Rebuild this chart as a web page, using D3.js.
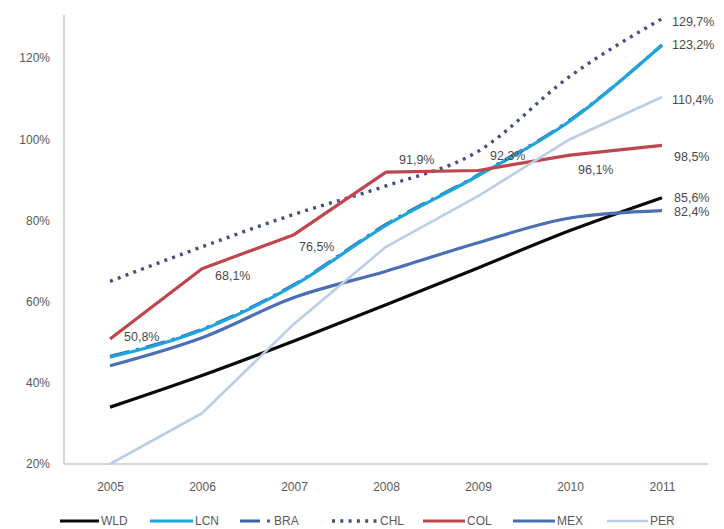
<!DOCTYPE html>
<html>
<head>
<meta charset="utf-8">
<script src="https://cdn.jsdelivr.net/npm/d3@7"></script>
<style>
  html, body { margin: 0; padding: 0; background: #fff; }
  svg { display: block; }
  text { font-family: "Liberation Sans", Arial, sans-serif; }
</style>
</head>
<body>
<svg id="chart" width="724" height="529"></svg>
<script>
// Years on the category axis
const years = [2005, 2006, 2007, 2008, 2009, 2010, 2011];

// Series values (%)
const WLD = [34.0, 41.8, 50.3, 59.2, 68.3, 77.5, 85.6];
const LCN = [46.3, 53.0, 64.0, 78.8, 91.0, 104.5, 123.2];
const BRA = [46.5, 53.2, 64.2, 79.0, 91.2, 104.7, 123.2];
const CHL = [65.0, 73.5, 81.5, 88.5, 97.0, 115.5, 129.7];
const COL = [50.8, 68.1, 76.5, 91.9, 92.3, 96.1, 98.5];
const MEX = [44.2, 51.1, 61.0, 67.5, 74.5, 80.6, 82.4];
const PER = [20.0, 32.5, 54.5, 73.5, 86.0, 100.0, 110.4];

// Y axis tick values
const yTicks = [20, 40, 60, 80, 100, 120];

// Legend order
const seriesNames = ["WLD", "LCN", "BRA", "CHL", "COL", "MEX", "PER"];
const seriesData = { WLD, LCN, BRA, CHL, COL, MEX, PER };

// Line styling per series
const styles = {
  WLD: { color: "#0a0a0a", width: 3.2, dash: null, smooth: true },
  LCN: { color: "#1ea6dc", width: 3.2, dash: null, smooth: true },
  BRA: { color: "#3d62a8", width: 3.2, dash: "20,7,3,7", smooth: true },
  CHL: { color: "#44517f", width: 3.4, dash: "3,5.3", smooth: true },
  COL: { color: "#c0464d", width: 3.2, dash: null, smooth: false },
  MEX: { color: "#4b6fb5", width: 3.2, dash: null, smooth: true },
  PER: { color: "#bccde8", width: 2.6, dash: null, smooth: false }
};

// Drawing order (BRA sits just under LCN)
const drawOrder = ["WLD", "BRA", "LCN", "CHL", "COL", "MEX", "PER"];

// Value labels: series, year index, pixel offset from the point
const valueLabels = [
  { s: "COL", i: 0, dx: 14, dy: -2 },
  { s: "COL", i: 1, dx: 13, dy: 7 },
  { s: "COL", i: 2, dx: 5, dy: 12 },
  { s: "COL", i: 3, dx: 13, dy: -12 },
  { s: "COL", i: 4, dx: 12, dy: -15 },
  { s: "COL", i: 5, dx: 8, dy: 15 },
  { s: "COL", i: 6, dx: 12, dy: 11 },
  { s: "CHL", i: 6, dx: 10, dy: 3 },
  { s: "LCN", i: 6, dx: 10, dy: 0 },
  { s: "PER", i: 6, dx: 10, dy: 3 },
  { s: "WLD", i: 6, dx: 12, dy: 0 },
  { s: "MEX", i: 6, dx: 12, dy: 1 }
];

const svg = d3.select("#chart");

const plot = { left: 64, right: 708, top: 15, bottom: 464 };

const x = d3.scalePoint()
  .domain(years)
  .range([plot.left, plot.right])
  .padding(0.5);

const y = d3.scaleLinear()
  .domain([20, 130.6])
  .range([plot.bottom, plot.top]);

// Axis lines
svg.append("line")
  .attr("x1", plot.left).attr("x2", plot.left)
  .attr("y1", plot.top).attr("y2", plot.bottom)
  .attr("stroke", "#c9c9c9").attr("stroke-width", 1.5);
svg.append("line")
  .attr("x1", plot.left).attr("x2", plot.right)
  .attr("y1", plot.bottom).attr("y2", plot.bottom)
  .attr("stroke", "#c9c9c9").attr("stroke-width", 1.5);

// Y axis labels
const yAxis = d3.axisLeft(y)
  .tickValues(yTicks)
  .tickSize(0)
  .tickPadding(14)
  .tickFormat(d => d + "%");
const gy = svg.append("g")
  .attr("transform", `translate(${plot.left},0)`)
  .call(yAxis);
gy.select(".domain").remove();
gy.selectAll("text")
  .attr("fill", "#595959")
  .style("font-size", "12px");

// X axis labels
const xAxis = d3.axisBottom(x)
  .tickSize(0)
  .tickPadding(18);
const gx = svg.append("g")
  .attr("transform", `translate(0,${plot.bottom})`)
  .call(xAxis);
gx.select(".domain").remove();
gx.selectAll("text")
  .attr("fill", "#595959")
  .style("font-size", "12px");

// Series lines
const lineGen = (smooth) => d3.line()
  .x((d, i) => x(years[i]))
  .y(d => y(d))
  .curve(smooth ? d3.curveMonotoneX : d3.curveLinear);

const linesG = svg.append("g");
drawOrder.forEach(name => {
  const st = styles[name];
  linesG.append("path")
    .datum(seriesData[name])
    .attr("d", lineGen(st.smooth))
    .attr("fill", "none")
    .attr("stroke", st.color)
    .attr("stroke-width", st.width)
    .attr("stroke-linejoin", "round")
    .attr("stroke-dasharray", st.dash);
});

// Value labels
const fmt = v => v.toFixed(1).replace(".", ",") + "%";
svg.append("g").selectAll("text")
  .data(valueLabels)
  .join("text")
  .attr("x", d => x(years[d.i]) + d.dx)
  .attr("y", d => y(seriesData[d.s][d.i]) + d.dy)
  .attr("dy", "0.35em")
  .attr("fill", "#4a4a4a")
  .style("font-size", "12.5px")
  .text(d => fmt(seriesData[d.s][d.i]));

// Legend
const legendY = 521;
const legendItems = [
  { name: "WLD", x0: 60, x1: 99 },
  { name: "LCN", x0: 150, x1: 193 },
  { name: "BRA", x0: 240, x1: 272 },
  { name: "CHL", x0: 332, x1: 378 },
  { name: "COL", x0: 423, x1: 465 },
  { name: "MEX", x0: 513, x1: 555 },
  { name: "PER", x0: 607, x1: 648 }
];
const lg = svg.append("g");
legendItems.forEach(it => {
  const st = styles[it.name];
  lg.append("line")
    .attr("x1", it.x0).attr("x2", it.x1)
    .attr("y1", legendY).attr("y2", legendY)
    .attr("stroke", st.color)
    .attr("stroke-width", st.width)
    .attr("stroke-dasharray", st.dash);
  lg.append("text")
    .attr("x", it.x1 + 2)
    .attr("y", legendY)
    .attr("dy", "0.35em")
    .attr("fill", "#595959")
    .style("font-size", "12px")
    .text(it.name);
});
</script>
</body>
</html>
